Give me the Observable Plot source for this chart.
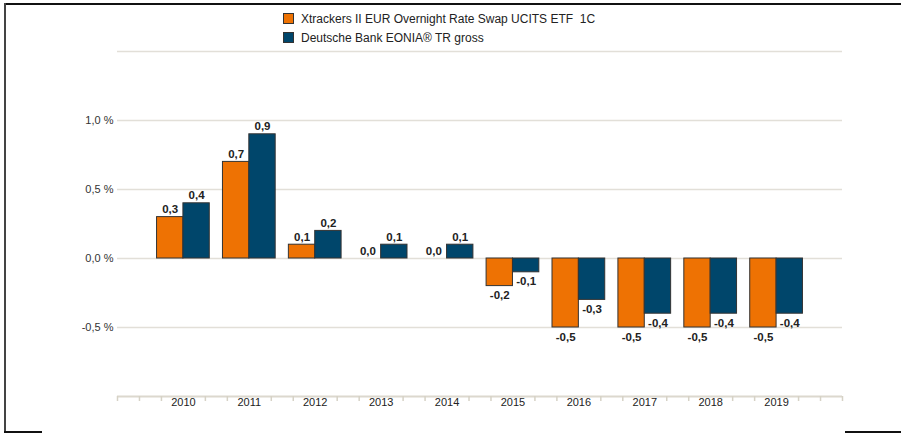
<!DOCTYPE html>
<html>
<head>
<meta charset="utf-8">
<script src="https://cdn.jsdelivr.net/npm/d3@7"></script>
<script src="https://cdn.jsdelivr.net/npm/@observablehq/plot@0.6"></script>
<style>
  html, body { margin: 0; padding: 0; background: #fff; }
  #wrap { position: relative; width: 901px; height: 433px; overflow: hidden; font-family: "Liberation Sans", Arial, sans-serif; }
  #legend { position: absolute; left: 283px; top: 9px; font-size: 12px; color: #222; }
  #legend .row { display: flex; align-items: center; height: 19px; }
  #legend .sw { width: 9px; height: 9px; border: 1px solid #333; margin-right: 7px; }
  .ln { position: absolute; background: #111; }
</style>
</head>
<body>
<div id="wrap">
  <div id="chart"></div>
  <div id="legend"></div>
  <div class="ln" style="left:4px;top:3px;width:897px;height:2px;"></div>
  <div class="ln" style="left:4px;top:3px;width:2px;height:430px;background:#444;"></div>
  <div class="ln" style="left:4px;top:431px;width:38px;height:2px;"></div>
  <div class="ln" style="left:845px;top:431px;width:56px;height:2px;"></div>
</div>
<script>
const years = [2010, 2011, 2012, 2013, 2014, 2015, 2016, 2017, 2018, 2019];
const etfValues = [0.3, 0.7, 0.1, 0.0, 0.0, -0.2, -0.5, -0.5, -0.5, -0.5];
const indexValues = [0.4, 0.9, 0.2, 0.1, 0.1, -0.1, -0.3, -0.4, -0.4, -0.4];
const seriesNames = ["Xtrackers II EUR Overnight Rate Swap UCITS ETF  1C", "Deutsche Bank EONIA® TR gross"];
const seriesColors = ["#EE7203", "#00466B"];
const yTicks = [-0.5, 0, 0.5, 1.0];
const gridValues = [-0.5, 0, 0.5, 1.0, 1.5];

const data = [];
years.forEach((y, i) => {
  data.push({year: y, series: seriesNames[0], value: etfValues[i], side: -1});
  data.push({year: y, series: seriesNames[1], value: indexValues[i], side: 1});
});

const half = 0.4; // bar width in category units
const minorTicks = d3.range(0, 34).map(k => 2009 + k / 3).filter(t => Math.abs(t - Math.round(t)) > 1e-6 || t < 2009.5 || t > 2019.5);
const locale = d3.formatLocale({decimal: ",", thousands: ".", grouping: [3], currency: ["", " €"], minus: "-"});
const fmt = locale.format(".1f");

const plot = Plot.plot({
  width: 901,
  height: 433,
  marginLeft: 117,
  marginRight: 59,
  marginTop: 51,
  marginBottom: 37,
  style: {fontFamily: "Liberation Sans, Arial, sans-serif", fontSize: "11px", color: "#333", background: "transparent"},
  x: {domain: [2009, 2020], axis: null},
  y: {domain: [-1.0, 1.5], axis: null},
  color: {domain: seriesNames, range: seriesColors},
  marks: [
    Plot.ruleY(gridValues, {stroke: "#e2dfd8", strokeWidth: 1.5}),
    Plot.ruleY([-1.0], {stroke: "#dcd8ce", strokeWidth: 2}),
    Plot.axisX({ticks: minorTicks, tickSize: 5, tickFormat: () => "", stroke: "#d6d2c6", strokeWidth: 1.5, label: null}),
    Plot.axisX({ticks: years, tickSize: 0, tickPadding: 2, tickFormat: d => String(d), fill: "#222", fontSize: 11, label: null}),
    Plot.axisY({ticks: yTicks, tickSize: 0, tickPadding: 4, tickFormat: d => fmt(d) + " %", fill: "#333", fontSize: 11, label: null}),
    Plot.rectY(data, {
      x1: d => d.side < 0 ? d.year - half : d.year,
      x2: d => d.side < 0 ? d.year : d.year + half,
      y1: 0,
      y2: "value",
      fill: "series",
      stroke: "#333",
      strokeWidth: 1
    }),
    Plot.text(data.filter(d => d.value >= 0), {
      x: d => d.year + d.side * half / 2,
      y: "value",
      text: d => fmt(d.value),
      lineAnchor: "bottom",
      dy: -4,
      fontWeight: "bold",
      fontSize: 11.5,
      fill: "#222"
    }),
    Plot.text(data.filter(d => d.value < 0), {
      x: d => d.year + d.side * half / 2,
      y: "value",
      text: d => fmt(d.value),
      lineAnchor: "top",
      dy: 5,
      fontWeight: "bold",
      fontSize: 11.5,
      fill: "#222"
    })
  ]
});
document.getElementById("chart").appendChild(plot);

const legend = document.getElementById("legend");
seriesNames.forEach((name, i) => {
  const row = document.createElement("div");
  row.className = "row";
  const sw = document.createElement("div");
  sw.className = "sw";
  sw.style.background = seriesColors[i];
  const t = document.createElement("span");
  t.textContent = name;
  t.style.whiteSpace = "pre";
  row.appendChild(sw);
  row.appendChild(t);
  legend.appendChild(row);
});
</script>
</body>
</html>
